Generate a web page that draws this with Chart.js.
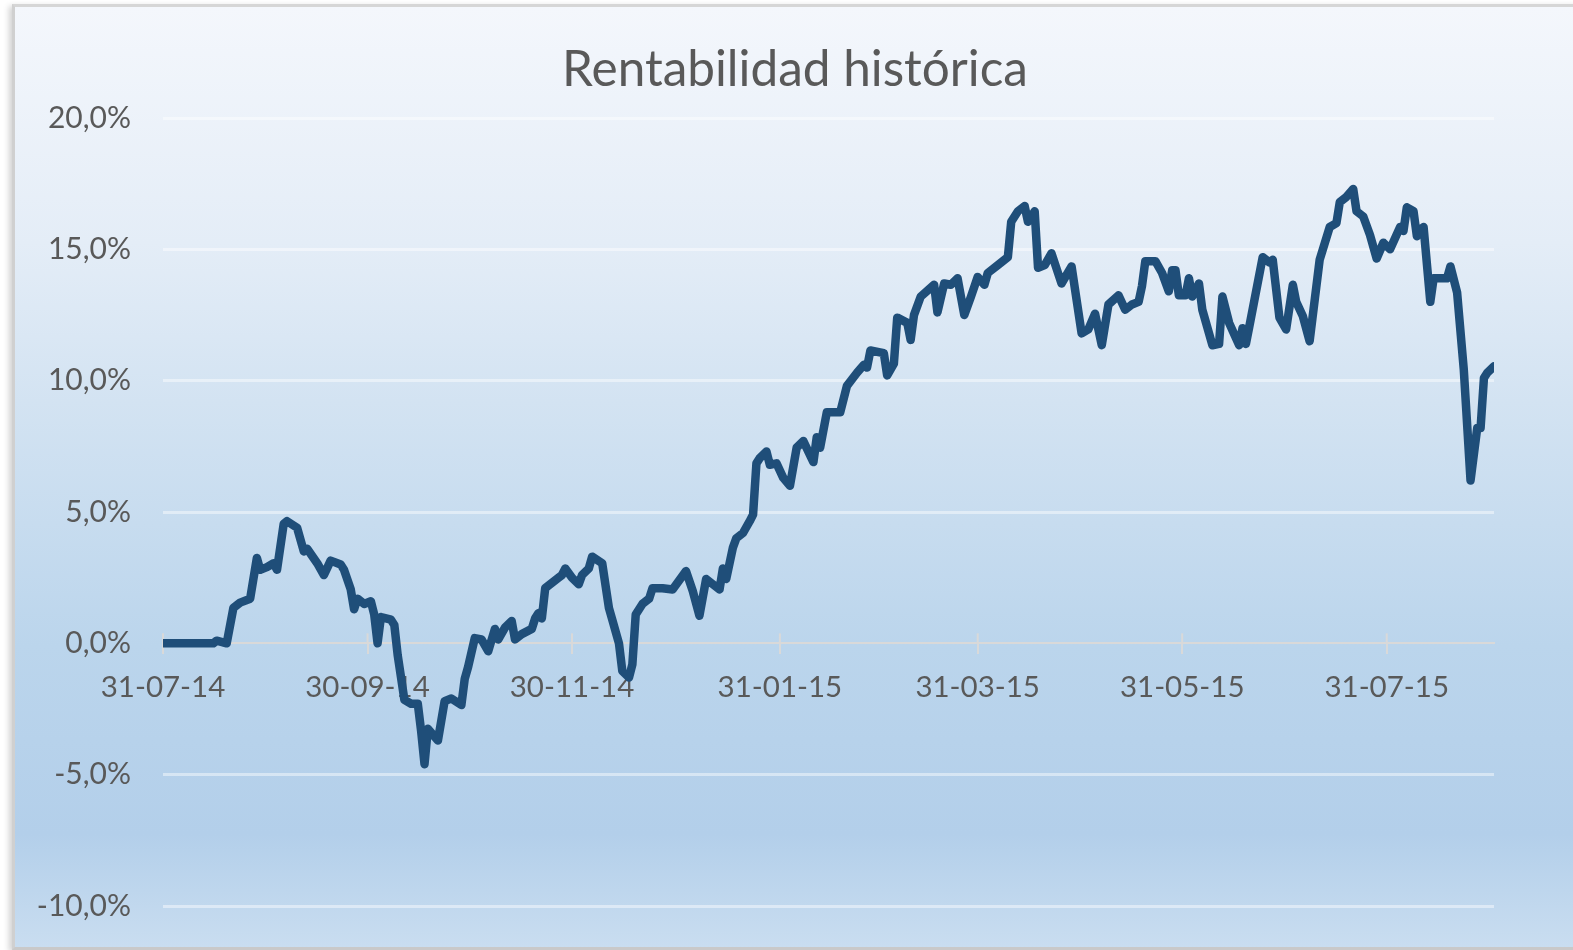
<!DOCTYPE html>
<html>
<head>
<meta charset="utf-8">
<title>Rentabilidad histórica</title>
<script src="https://cdn.jsdelivr.net/npm/chart.js@4.4.0/dist/chart.umd.min.js"></script>
<style>
  html, body { margin: 0; padding: 0; background: #fff; overflow: hidden; }
  #frame {
    position: absolute; left: 12px; top: 4px; width: 1575px; height: 940px;
    border-top: 3px solid #d6d6d6; border-left: 3px solid #d0d0d0; border-bottom: 3px solid #c9c9c9;
    box-shadow: -3px 2px 6px rgba(0, 0, 0, 0.18);
    background: linear-gradient(to bottom, #f4f7fc 0%, #e4edf7 25%, #d3e3f2 42%, #bbd5ec 68%, #b3cfea 88%, #c9ddf0 100%);
  }
  #chart { position: absolute; left: 0; top: 0; }
</style>
</head>
<body>
<div id="frame"></div>
<canvas id="chart" width="1573" height="950"></canvas>
<script>
// Days since 31-07-14 and cumulative return (%)
const days = [
  0, 15, 16, 19, 21, 23, 26, 28, 29, 31, 33, 34, 36, 37, 40, 42, 43, 46, 48, 50,
  53, 54, 56, 57, 58, 60, 62, 63, 64, 65, 68, 69, 70, 72, 74, 76, 77, 78, 79, 82,
  84, 86, 89, 90, 91, 93, 95, 97, 99, 100, 102, 104, 105, 107, 110, 111, 112, 113, 114, 118,
  119, 120, 122, 124, 125, 127, 128, 131, 133, 134, 136, 137, 139, 140, 141, 143, 145, 146, 149, 152,
  156, 158, 160, 162, 164, 166, 167, 168, 170, 171, 173, 175, 176, 177, 178, 180, 181, 183, 185, 187,
  189, 191, 194, 195, 196, 198, 202, 204, 207, 209, 210, 211, 215, 216, 218, 219, 222, 223, 224, 226,
  230, 231, 233, 235, 237, 239, 241, 243, 245, 246, 249, 252, 253, 255, 257, 258, 260, 261, 263, 265,
  268, 271, 274, 276, 278, 280, 282, 285, 287, 289, 291, 292, 293, 296, 298, 300, 301, 302, 303, 305,
  306, 307, 309, 310, 313, 315, 316, 318, 321, 322, 323, 324, 328, 330, 331, 333, 335, 337, 338, 340,
  342, 345, 348, 350, 351, 353, 355, 356, 358, 360, 362, 364, 366, 369, 370, 371, 373, 374, 375, 376,
  378, 379, 383, 384, 386, 388, 390, 392, 393, 394, 395, 397
];
const returns = [
  0, 0, 0.1, 0, 1.35, 1.55, 1.7, 3.25, 2.8, 2.9, 3.05, 2.8, 4.55, 4.65, 4.4, 3.5, 3.6, 3.05, 2.6, 3.15,
  3.0, 2.8, 2.05, 1.3, 1.7, 1.5, 1.6, 1.1, 0.0, 1.0, 0.9, 0.7, -0.45, -2.15, -2.3, -2.3, -3.35, -4.6, -3.25, -3.7,
  -2.2, -2.1, -2.35, -1.35, -0.9, 0.2, 0.15, -0.3, 0.55, 0.15, 0.6, 0.85, 0.15, 0.35, 0.55, 0.95, 1.15, 0.95, 2.1, 2.5,
  2.6, 2.85, 2.5, 2.25, 2.6, 2.85, 3.3, 3.05, 1.35, 0.9, 0.0, -1.05, -1.3, -0.8, 1.1, 1.5, 1.7, 2.1, 2.1, 2.05,
  2.75, 2.0, 1.05, 2.45, 2.25, 2.05, 2.85, 2.45, 3.65, 4.0, 4.2, 4.65, 4.9, 6.85, 7.05, 7.3, 6.8, 6.85, 6.3, 6.0,
  7.45, 7.7, 6.9, 7.85, 7.45, 8.8, 8.8, 9.8, 10.3, 10.6, 10.5, 11.15, 11.05, 10.2, 10.65, 12.4, 12.2, 11.55, 12.5, 13.2,
  13.65, 12.6, 13.7, 13.65, 13.9, 12.5, 13.2, 13.95, 13.65, 14.1, 14.4, 14.7, 16.05, 16.45, 16.65, 16.05, 16.45, 14.3, 14.4, 14.85,
  13.7, 14.35, 11.8, 11.95, 12.55, 11.35, 12.9, 13.25, 12.7, 12.9, 13.0, 13.6, 14.55, 14.55, 14.1, 13.4, 14.2, 14.2, 13.25, 13.25,
  13.9, 13.2, 13.7, 12.7, 11.35, 11.4, 13.2, 12.2, 11.35, 12.0, 11.4, 12.05, 14.7, 14.5, 14.6, 12.4, 11.95, 13.65, 13.0, 12.45,
  11.5, 14.6, 15.85, 16.0, 16.8, 17.0, 17.3, 16.45, 16.25, 15.55, 14.65, 15.25, 15.0, 15.85, 15.7, 16.6, 16.45, 15.5, 15.75, 15.85,
  13.0, 13.9, 13.9, 14.35, 13.35, 10.4, 6.2, 8.2, 8.2, 10.1, 10.3, 10.55
];

// x axis: one label every two months, y axis in steps of 5 %
const tickDays = [0, 61, 122, 184, 243, 304, 365];
const tickLabels = ["31-07-14", "30-09-14", "30-11-14", "31-01-15", "31-03-15", "31-05-15", "31-07-15"];
const yTicks = [-10, -5, 0, 5, 10, 15, 20];
const chartTitle = "Rentabilidad histórica";

const points = days.map((d, i) => ({ x: d, y: returns[i] }));

// small tick marks above the axis line too (Excel draws them crossing)
const crossTicks = {
  id: "crossTicks",
  beforeDatasetsDraw(chart) {
    const xs = chart.scales.x;
    const y0 = chart.scales.y.getPixelForValue(0);
    const ctx = chart.ctx;
    ctx.save();
    ctx.strokeStyle = "#d9d9d9";
    ctx.lineWidth = 2;
    xs.ticks.forEach((t, i) => {
      const px = xs.getPixelForTick(i);
      ctx.beginPath();
      ctx.moveTo(px, y0 - 10);
      ctx.lineTo(px, y0);
      ctx.stroke();
    });
    ctx.restore();
  },
};

// title centred on the whole frame (not on the canvas minus the right gap)
const frameTitle = {
  id: "frameTitle",
  afterDraw(chart) {
    const ctx = chart.ctx;
    ctx.save();
    ctx.fillStyle = "#595959";
    ctx.font = "49.5px Lato";
    ctx.textAlign = "center";
    ctx.textBaseline = "middle";
    ctx.fillText(chartTitle, 795, 70);
    ctx.restore();
  },
};

const ctx = document.getElementById("chart").getContext("2d");
new Chart(ctx, {
  type: "line",
  data: {
    datasets: [
      {
        label: "Rentabilidad",
        data: points,
        borderColor: "#1f4e79",
        borderWidth: 8.5,
        pointRadius: 0,
        tension: 0,
        borderJoinStyle: "round",
        borderCapStyle: "round",
      },
    ],
  },
  options: {
    responsive: false,
    animation: false,
    devicePixelRatio: 1,
    layout: { padding: { left: 0, right: 79, top: 118, bottom: 44 } },
    plugins: {
      legend: { display: false },
      tooltip: { enabled: false },
      title: { display: false },
    },
    scales: {
      x: {
        type: "linear",
        position: { y: 0 },
        min: 0,
        max: 397,
        afterBuildTicks: (s) => {
          s.ticks = tickDays.map((v) => ({ value: v }));
        },
        afterFit: (s) => {
          s.height = 0;
        },
        ticks: {
          autoSkip: false,
          maxRotation: 0,
          padding: 16,
          color: "#595959",
          font: { family: "Lato", size: 29.5 },
          callback: (v) => tickLabels[tickDays.indexOf(v)],
        },
        grid: { drawOnChartArea: false, drawTicks: true, tickLength: 10, color: "#d9d9d9", lineWidth: 2 },
        border: { display: true, color: "#d9d9d9", width: 2 },
      },
      y: {
        min: -10,
        max: 20,
        afterBuildTicks: (s) => {
          s.ticks = yTicks.map((v) => ({ value: v }));
        },
        afterFit: (s) => {
          s.width = 163;
        },
        ticks: {
          padding: 0,
          color: "#595959",
          font: { family: "Lato", size: 30 },
          callback: (v) => v.toFixed(1).replace(".", ",") + "%",
        },
        grid: {
          // invisible tick marks give the gap between labels and plot
          drawTicks: true,
          tickLength: 32,
          tickColor: "rgba(0,0,0,0)",
          lineWidth: 3,
          color: (c) => (c.tick && c.tick.value === 0 ? "rgba(0,0,0,0)" : "rgba(255,255,255,0.45)"),
        },
        border: { display: false },
      },
    },
  },
  plugins: [crossTicks, frameTitle],
});
</script>
</body>
</html>
